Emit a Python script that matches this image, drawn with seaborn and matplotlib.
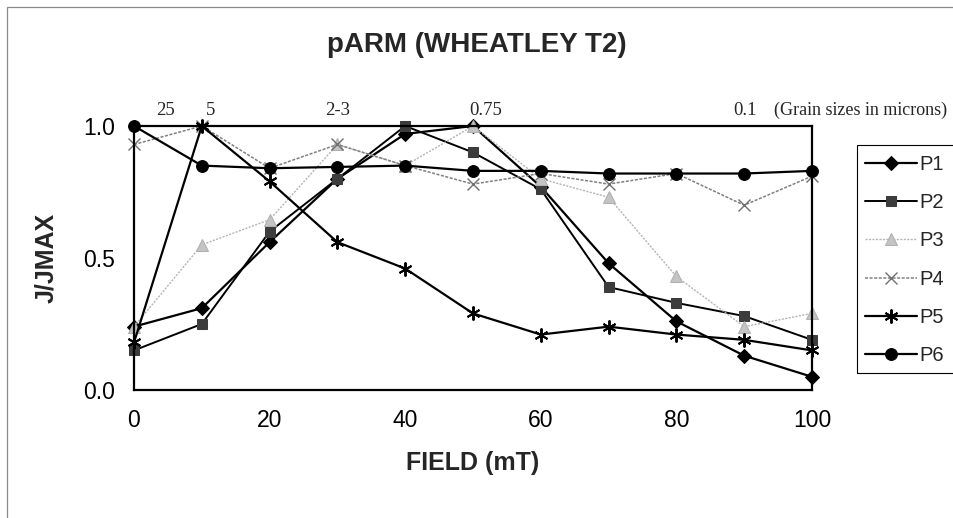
import matplotlib
matplotlib.use("Agg")
import matplotlib.pyplot as plt
from matplotlib.patches import Rectangle
import numpy as np
import pandas as pd
import seaborn as sns

# Alternating field steps (mT)
field = [0, 10, 20, 30, 40, 50, 60, 70, 80, 90, 100]

# Normalised pARM intensity (J/Jmax) for each sample
p1 = [0.24, 0.31, 0.56, 0.80, 0.97, 1.00, 0.77, 0.48, 0.26, 0.13, 0.05]
p2 = [0.15, 0.25, 0.60, 0.80, 1.00, 0.90, 0.76, 0.39, 0.33, 0.28, 0.19]
p3 = [0.24, 0.55, 0.645, 0.93, 0.85, 1.00, 0.80, 0.73, 0.43, 0.24, 0.29]
p4 = [0.93, 1.00, 0.84, 0.93, 0.85, 0.78, 0.82, 0.78, 0.82, 0.70, 0.81]
p5 = [0.18, 1.00, 0.79, 0.56, 0.46, 0.29, 0.21, 0.24, 0.21, 0.19, 0.15]
p6 = [1.00, 0.85, 0.84, 0.845, 0.85, 0.83, 0.83, 0.82, 0.82, 0.82, 0.83]

series_names = ["P1", "P2", "P3", "P4", "P5", "P6"]
series_values = [p1, p2, p3, p4, p5, p6]

# Grain-size annotations along the top of the plot
grain_labels = ["25", "5", "2-3", "0.75", "0.1"]
grain_note = "(Grain sizes in microns)"

x_ticks = [0, 20, 40, 60, 80, 100]
y_ticks = [0.0, 0.5, 1.0]

df = pd.DataFrame({
    "field": np.tile(field, len(series_names)),
    "value": np.concatenate(series_values),
    "series": np.repeat(series_names, len(field)),
})

sns.set_theme(style="white")
plt.rcParams["font.family"] = ["Liberation Sans", "DejaVu Sans"]

fig = plt.figure(figsize=(9.54, 5.18), dpi=100)
W, H = 954, 518
left, right, top, bottom = 134, 812, 126, 390
ax = fig.add_axes([left / W, 1 - bottom / H, (right - left) / W, (bottom - top) / H])

styles = {
    "P1": dict(color="black", marker="D", markersize=7.5, markerfacecolor="black",
               markeredgecolor="black", linestyle="-", linewidth=1.6),
    "P2": dict(color="black", marker="s", markersize=7, markerfacecolor="#3c3c3c",
               markeredgecolor="#3c3c3c", linestyle="-", linewidth=1.4),
    "P3": dict(color="#b4b4b4", marker="^", markersize=8, markerfacecolor="#c4c4c4",
               markeredgecolor="#b0b0b0", linestyle=(0, (1.5, 1)), linewidth=1.0),
    "P4": dict(color="#808080", marker="x", markersize=8.5, markeredgewidth=1.0,
               markeredgecolor="#707070", linestyle=(0, (2, 1)), linewidth=1.1),
    "P5": dict(color="black", marker=(6, 2, 0), markersize=10, markeredgewidth=1.4,
               markeredgecolor="black", linestyle="-", linewidth=1.6),
    "P6": dict(color="black", marker="o", markersize=8.5, markerfacecolor="black",
               markeredgecolor="black", linestyle="-", linewidth=1.6),
}

for name in series_names:
    sub = df[df["series"] == name]
    sns.lineplot(data=sub, x="field", y="value", ax=ax, label=name,
                 errorbar=None, sort=False, clip_on=False, **styles[name])

ax.set_xlim(0, 100)
ax.set_ylim(0, 1)
ax.set_xticks(x_ticks)
ax.set_xticklabels([str(t) for t in x_ticks])
ax.set_yticks(y_ticks)
ax.set_yticklabels([f"{t:.1f}" for t in y_ticks])
ax.tick_params(axis="both", direction="inout", length=7, width=1, colors="black",
               labelsize=16.5, pad=10)
for sp in ax.spines.values():
    sp.set_visible(True)
    sp.set_color("black")
    sp.set_linewidth(1.6)

ax.set_xlabel("FIELD (mT)", fontsize=18, fontweight="bold", labelpad=14)
ax.set_ylabel("J/JMAX", fontsize=18, fontweight="bold", labelpad=18)

fig.text(477 / W, 1 - 45 / H, "pARM (WHEATLEY T2)", ha="center", va="center",
         fontsize=20, fontweight="bold")

# Grain sizes above the plot, in data x-coordinates
grain_x = [4.6, 11.3, 30.1, 51.8, 90.1]
for gx, lab in zip(grain_x, grain_labels):
    ax.text(gx, 1.06, lab, ha="center", va="center", fontsize=13.5,
            family="Liberation Serif", clip_on=False)
ax.text(94.4, 1.06, grain_note, ha="left", va="center", fontsize=13,
        family="Liberation Serif", clip_on=False)

handles, labels = ax.get_legend_handles_labels()
ax.get_legend().remove()
leg = fig.legend(handles, labels, loc="center left",
                 bbox_to_anchor=(865 / W, 1 - 260 / H), fontsize=14.5,
                 frameon=False, handlelength=2.6, handletextpad=0.08,
                 labelspacing=0.95, borderpad=0, borderaxespad=0)

# Legend box runs off the right edge of the chart area
fig.patches.append(Rectangle((857 / W, 1 - 373 / H), 110 / W, 228 / H,
                             transform=fig.transFigure, fill=False,
                             edgecolor="black", linewidth=0.8))

# Thin outer chart-area border
fig.patches.append(Rectangle((7 / W, -0.01), 1.0, 1 - 7 / H + 0.01,
                             transform=fig.transFigure, fill=False,
                             edgecolor="#8a8a8a", linewidth=0.9))

fig.savefig("out.png", dpi=100)
